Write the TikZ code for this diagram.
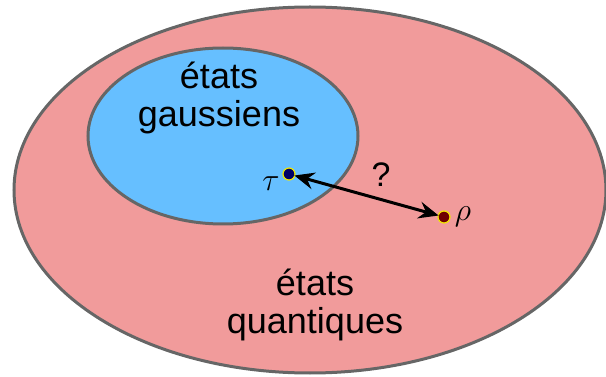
\RequirePackage{fix-cm}
\documentclass[tikz,border=0pt]{standalone}
\usepackage{fontspec}
\setmainfont{Liberation Sans}
\usetikzlibrary{arrows.meta}
\definecolor{pinkfill}{RGB}{241,155,155}
\definecolor{bluefill}{RGB}{102,191,255}
\definecolor{rimgray}{RGB}{102,102,102}
\definecolor{taufill}{RGB}{0,0,102}
\definecolor{rhofill}{RGB}{110,0,0}
\definecolor{dotrim}{RGB}{240,230,0}
\tikzset{
  setshape/.style={draw=rimgray, line width=3pt},
  statedot/.style={circle, draw=dotrim, line width=1.2pt, minimum size=12pt, inner sep=0pt},
  bigtext/.style={font=\fontsize{36}{38}\selectfont, align=center, inner sep=0pt},
  mathlabel/.style={font=\fontsize{32}{34}\selectfont, inner sep=0pt},
}
\begin{document}
\begin{tikzpicture}[x=1pt, y=-1pt]
\useasboundingbox (0,0) rectangle (606,377);
\path[setshape, fill=pinkfill] (310,190) ellipse [x radius=296, y radius=183];
\path[setshape, fill=bluefill] (223,136) ellipse [x radius=135, y radius=88];
\node[bigtext] (gauss) at (219,98) {états\\gaussiens};
\node[bigtext] (quant) at (315,305) {états\\quantiques};
\node[statedot, fill=taufill] (tau) at (289,174) {};
\node[statedot, fill=rhofill] (rho) at (444,217) {};
\node[mathlabel] (taulab) at (271,184) {$\tau$};
\node[mathlabel] (rholab) at (463,217) {$\rho$};
\draw[line width=3pt, {Stealth[length=20pt,width=17pt,inset=7pt]}-{Stealth[length=20pt,width=17pt,inset=7pt]}, shorten <=-1pt, shorten >=-1pt] (tau) -- (rho);
\node[font=\fontsize{34}{36}\selectfont, inner sep=0pt] (q) at (381,175) {?};
\end{tikzpicture}
\end{document}
